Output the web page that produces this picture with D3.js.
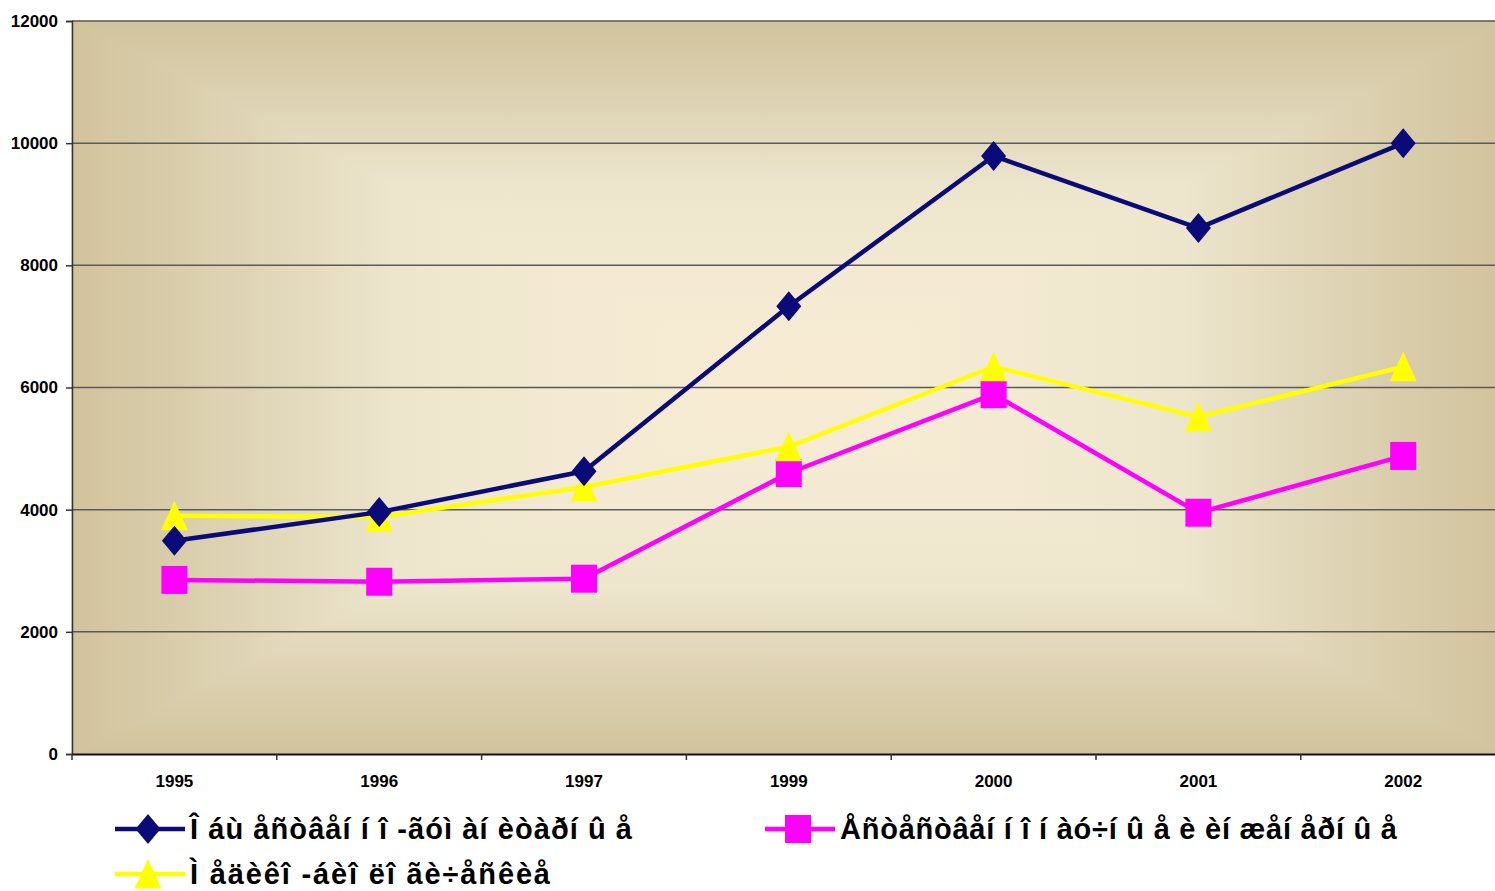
<!DOCTYPE html>
<html>
<head>
<meta charset="utf-8">
<script src="https://cdn.jsdelivr.net/npm/d3@7"></script>
<style>
  html, body { margin: 0; padding: 0; background: #fff; }
  svg { display: block; font-family: "Liberation Sans", Arial, sans-serif; }
</style>
</head>
<body>
<svg id="chart" width="1495" height="891"></svg>
<script>
// Years on the category axis
const years = ["1995", "1996", "1997", "1999", "2000", "2001", "2002"];

// Series values per year
const humanities = [3490, 3960, 4630, 7330, 9790, 8610, 10000];
const naturalSci = [2850, 2820, 2870, 4600, 5890, 3950, 4880];
const medicalBio = [3900, 3880, 4370, 5030, 6340, 5520, 6340];

// Legend labels
const seriesNames = [
  "Î áù åñòâåí í î -ãóì àí èòàðí û å",
  "Åñòåñòâåí í î í àó÷í û å è èí æåí åðí û å",
  "Ì åäèêî -áèî ëî ãè÷åñêèå"
];

// Value-axis ticks
const yTicks = [0, 2000, 4000, 6000, 8000, 10000, 12000];

const series = [
  { name: seriesNames[0], values: humanities, color: "#0a0a78", shape: "diamond" },
  { name: seriesNames[1], values: naturalSci, color: "#ff00ff", shape: "square" },
  { name: seriesNames[2], values: medicalBio, color: "#ffff00", shape: "triangle" }
];

const svg = d3.select("#chart");
const plotLeft = 72, plotTop = 21, plotBottom = 754;
const bandW = 204.8;
const plotRight = plotLeft + bandW * years.length;
const midX = (plotLeft + plotRight) / 2, midY = (plotTop + plotBottom) / 2;

const x = d3.scaleBand().domain(years).range([plotLeft, plotRight]);
const y = d3.scaleLinear().domain([0, 12000]).range([plotBottom, plotTop]);

// Plot-area fill: rectangular "from centre" shading, built from four
// triangles (one per edge), each with a linear ramp from edge to centre.
const defs = svg.append("defs");
const ramp = [
  [0, "#d1c39c"], [0.15, "#d9cdab"], [0.3, "#e2d9bc"],
  [0.45, "#ede5cc"], [0.7, "#f4ead3"], [1, "#f7ebd2"]
];
const sides = [
  { id: "gTop", x1: midX, y1: plotTop, x2: midX, y2: midY,
    pts: [[plotLeft, plotTop], [plotRight, plotTop], [midX, midY]] },
  { id: "gBottom", x1: midX, y1: plotBottom, x2: midX, y2: midY,
    pts: [[plotLeft, plotBottom], [plotRight, plotBottom], [midX, midY]] },
  { id: "gLeft", x1: plotLeft, y1: midY, x2: midX, y2: midY,
    pts: [[plotLeft, plotTop], [plotLeft, plotBottom], [midX, midY]] },
  { id: "gRight", x1: plotRight, y1: midY, x2: midX, y2: midY,
    pts: [[plotRight, plotTop], [plotRight, plotBottom], [midX, midY]] }
];
sides.forEach(s => {
  const lg = defs.append("linearGradient").attr("id", s.id)
    .attr("gradientUnits", "userSpaceOnUse")
    .attr("x1", s.x1).attr("y1", s.y1).attr("x2", s.x2).attr("y2", s.y2);
  ramp.forEach(([o, c]) => lg.append("stop").attr("offset", o).attr("stop-color", c));
});
svg.append("rect")
  .attr("x", plotLeft).attr("y", plotTop)
  .attr("width", plotRight - plotLeft).attr("height", plotBottom - plotTop)
  .attr("fill", "#e6dcc0");
svg.append("g").selectAll("polygon").data(sides).join("polygon")
  .attr("points", s => s.pts.map(p => p.join(",")).join(" "))
  .attr("fill", s => `url(#${s.id})`)
  .attr("stroke", s => `url(#${s.id})`)
  .attr("stroke-width", 1);

// Horizontal gridlines
svg.append("g")
  .selectAll("line")
  .data(yTicks.filter(d => d > 0))
  .join("line")
  .attr("x1", plotLeft).attr("x2", plotRight)
  .attr("y1", d => y(d)).attr("y2", d => y(d))
  .attr("stroke", "#5a5a5a").attr("stroke-width", 1.5);

// Value axis
const yAxis = svg.append("g")
  .attr("transform", `translate(${plotLeft},0)`)
  .call(d3.axisLeft(y).tickValues(yTicks).tickSize(6).tickPadding(8).tickFormat(d3.format("d")));
yAxis.select(".domain").attr("stroke", "#333").attr("stroke-width", 1.5);
yAxis.selectAll(".tick line").attr("stroke", "#333").attr("stroke-width", 1.5);
yAxis.selectAll("text")
  .attr("font-size", 17).attr("font-weight", "bold").attr("fill", "#000")
  .attr("font-family", "Liberation Sans, Arial, sans-serif");

// Category axis with ticks on band boundaries
const xAxis = svg.append("g")
  .attr("transform", `translate(0,${plotBottom})`)
  .call(d3.axisBottom(x).tickSize(0).tickPadding(21));
xAxis.select(".domain").attr("stroke", "#111").attr("stroke-width", 2);
xAxis.selectAll("text")
  .attr("font-size", 17).attr("font-weight", "bold").attr("fill", "#000")
  .attr("font-family", "Liberation Sans, Arial, sans-serif");
svg.append("g")
  .selectAll("line")
  .data(d3.range(years.length + 1))
  .join("line")
  .attr("x1", i => plotLeft + i * bandW).attr("x2", i => plotLeft + i * bandW)
  .attr("y1", plotBottom).attr("y2", plotBottom + 6)
  .attr("stroke", "#333").attr("stroke-width", 1.5);

const cx = d => x(d) + x.bandwidth() / 2;

// Marker outlines, centred on the data point
const markerPath = {
  diamond: "M0,-15L12.5,0L0,15L-12.5,0Z",
  square: "M-13,-14L13,-14L13,14L-13,14Z",
  triangle: "M0,-15L13.5,14.5L-13.5,14.5Z"
};

const line = d3.line().x(d => cx(d.year)).y(d => y(d.value));

// Draw order: squares, then triangles, then diamonds on top
const drawOrder = [series[1], series[2], series[0]];
drawOrder.forEach(s => {
  const pts = years.map((yr, i) => ({ year: yr, value: s.values[i] }));
  const g = svg.append("g");
  g.append("path").datum(pts)
    .attr("d", line)
    .attr("fill", "none")
    .attr("stroke", s.color)
    .attr("stroke-width", 4.5)
    .attr("stroke-linejoin", "round");
  g.selectAll("path.m").data(pts).join("path")
    .attr("class", "m")
    .attr("d", markerPath[s.shape])
    .attr("transform", d => `translate(${cx(d.year)},${y(d.value)})`)
    .attr("fill", s.color);
});

// Legend
const legendItems = [
  { s: series[0], lx: 115, ly: 829, w: 442 },
  { s: series[1], lx: 765, ly: 829, w: 557 },
  { s: series[2], lx: 115, ly: 874, w: 360 }
];
const lg = svg.append("g");
legendItems.forEach(it => {
  const g = lg.append("g");
  g.append("line")
    .attr("x1", it.lx).attr("x2", it.lx + 70)
    .attr("y1", it.ly).attr("y2", it.ly)
    .attr("stroke", it.s.color).attr("stroke-width", 4.5);
  g.append("path")
    .attr("d", markerPath[it.s.shape])
    .attr("transform", `translate(${it.lx + 33},${it.ly})`)
    .attr("fill", it.s.color);
  g.append("text")
    .attr("x", it.lx + 75).attr("y", it.ly + 10)
    .attr("font-size", 29).attr("font-weight", "bold").attr("fill", "#000")
    .attr("textLength", it.w).attr("lengthAdjust", "spacing")
    .text(it.s.name);
});
</script>
</body>
</html>
